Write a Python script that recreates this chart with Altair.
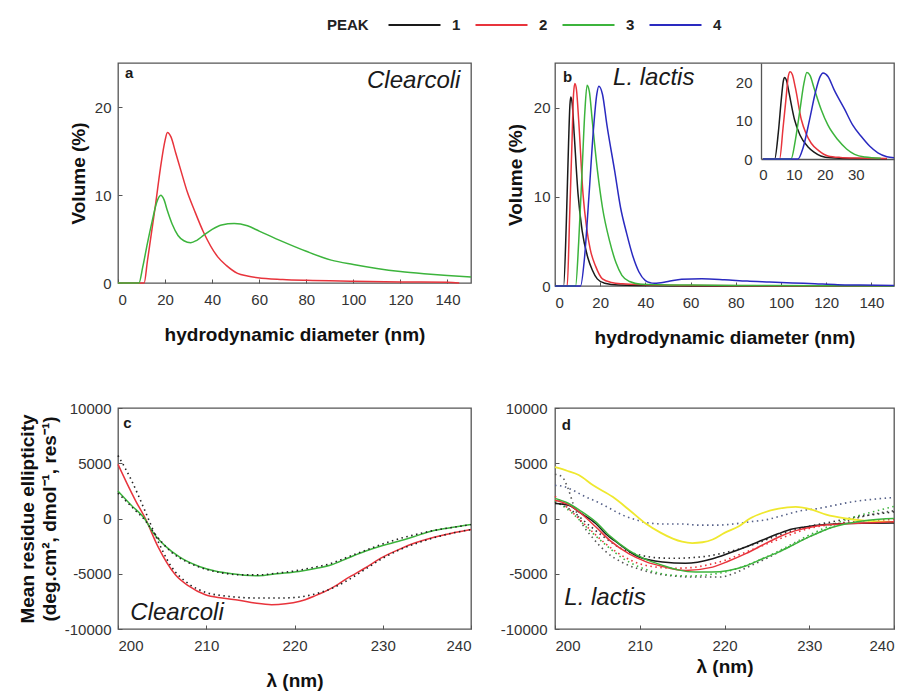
import altair as alt
import pandas as pd

FONT = "Liberation Sans"
PEAKS = ["1", "2", "3", "4"]
PEAK_COLORS = ["#1a1a1a", "#e8343c", "#3cb43c", "#2a2ac0"]
YELLOW = "#efe82e"
DOT_GRAY = "#555555"
DOT_BLUE = "#556088"

# ---------- panel a : Clearcoli DLS ----------
a_red_x = [0, 11.1, 12.5, 14, 16, 18, 20, 21, 22.5, 24.5, 26.7, 29.5, 32.4, 36.3, 42.3, 46, 50.8, 55, 59.4, 70, 80, 100, 120, 140, 145]
a_red_y = [0, 0, 2.5, 5.3, 9, 13, 16.2, 17.1, 16.6, 14.8, 12.8, 10.3, 8.3, 5.8, 3.0, 2.0, 1.1, 0.8, 0.6, 0.4, 0.3, 0.2, 0.12, 0.08, 0]
a_grn_x = [0, 8.9, 10.5, 12.5, 14.5, 16.5, 18.2, 19.5, 21, 23, 25.5, 28, 30.9, 33.5, 36.3, 40, 44, 49.4, 55, 60, 70, 80, 90.6, 100, 110, 120, 130, 140, 150]
a_grn_y = [0, 0, 1.8, 4.5, 7, 9.2, 9.97, 9.5, 8.2, 6.7, 5.4, 4.8, 4.57, 4.85, 5.4, 6.1, 6.6, 6.76, 6.5, 5.9, 4.7, 3.6, 2.6, 2.1, 1.65, 1.3, 1.05, 0.85, 0.68]

# ---------- panel b : L. lactis DLS ----------
b_p1_x = [0, 3.8, 5, 6, 6.6, 7, 7.6, 8.5, 10.2, 12, 14.5, 16.5, 18.7, 22, 28, 40, 60, 150]
b_p1_y = [0, 0, 7, 16, 20.3, 21.2, 20.5, 17, 10.3, 6.2, 3.2, 1.8, 0.8, 0.3, 0.1, 0.05, 0, 0]
b_p2_x = [0, 5.4, 6.5, 7.5, 8.2, 8.8, 9.5, 10.5, 12.4, 14, 15.6, 18, 21, 25, 30, 40, 60, 150]
b_p2_y = [0, 0, 8, 16, 21.5, 22.7, 22, 18.5, 10.3, 6.5, 4.1, 2.2, 0.8, 0.4, 0.25, 0.15, 0.05, 0]
b_p3_x = [0, 9.1, 10.5, 12, 13.2, 14.2, 15.2, 16.5, 18.8, 21, 24.2, 27, 29.6, 33, 38, 60, 95, 150]
b_p3_y = [0, 0, 5, 13, 19.5, 22.5, 21.8, 18.5, 12.9, 8.8, 5, 2.6, 1.2, 0.5, 0.2, 0.1, 0.05, 0]
b_p4_x = [0, 11.3, 13, 15, 17, 18.5, 19.4, 21, 23, 26.4, 29, 31.7, 34.5, 37.1, 40, 42.3, 44, 50, 56, 65, 75, 85, 95, 105, 115, 125, 135, 150]
b_p4_y = [0, 0, 3, 10, 17.5, 21.5, 22.4, 21.5, 18, 12.9, 8.8, 5.9, 3.3, 1.6, 0.6, 0.35, 0.3, 0.5, 0.75, 0.8, 0.7, 0.55, 0.45, 0.35, 0.25, 0.15, 0.1, 0.05]

# ---------- panel c : Clearcoli CD ----------
c_red_x = [200, 201, 202, 203.1, 204.5, 206.5, 208, 209.9, 211.8, 213.7, 215.5, 217.4, 219, 220.5, 222.3, 224.2, 226, 228, 230, 231.8, 233.7, 235.5, 237.7, 240]
c_red_y = [4900, 3200, 1600, 0, -2500, -5090, -6100, -6900, -7200, -7400, -7650, -7800, -7720, -7520, -7000, -6300, -5400, -4480, -3500, -2820, -2200, -1760, -1350, -1000]
c_grn_x = [200, 201.5, 203, 204, 205.4, 207, 209.2, 211, 212.9, 215.9, 218, 220.5, 222.5, 224.2, 226, 228, 230, 231.8, 233.5, 235.5, 237.5, 240]
c_grn_y = [2480, 1200, 0, -1300, -2520, -3500, -4340, -4750, -5000, -5180, -5000, -4790, -4500, -4180, -3600, -2970, -2450, -2060, -1650, -1150, -850, -545]
c_dot1_x = [200, 201.5, 203, 204.5, 206, 208, 210, 212, 214, 216, 218, 220, 222, 224, 226, 228, 230, 232, 234, 236, 238, 240]
c_dot1_y = [5700, 3500, 800, -2000, -4300, -5900, -6700, -7000, -7150, -7200, -7200, -7150, -6900, -6400, -5600, -4600, -3600, -2800, -2200, -1700, -1300, -1000]
c_dot2_x = [200, 202, 203, 204, 206, 208, 210, 212, 214, 216, 218, 220, 222, 224, 226, 228, 230, 232, 234, 236, 238, 240]
c_dot2_y = [2300, 700, -100, -1200, -3000, -4000, -4600, -4950, -5100, -5100, -4950, -4750, -4450, -4100, -3500, -2900, -2300, -1800, -1400, -1050, -800, -550]

# ---------- panel d : L. lactis CD ----------
d_yel_x = [200, 201.5, 202.8, 204.5, 206.8, 208.8, 210.7, 212.5, 213.9, 215, 216.2, 217.4, 218.6, 220, 221.7, 223, 224.5, 226.4, 228.4, 230.3, 232, 234.3, 236.5, 240]
d_yel_y = [4640, 4300, 3940, 3000, 1960, 750, -450, -1300, -1820, -2100, -2220, -2150, -1900, -1300, -700, 0, 500, 900, 1050, 800, 350, 0, -200, -300]
d_blk_x = [200, 201.6, 203, 204.8, 206, 207.5, 209.9, 212.7, 215.4, 218.6, 220.5, 222.5, 224.5, 226.4, 228, 229.5, 232, 234.3, 237, 240]
d_blk_y = [1360, 1200, 500, -450, -1400, -2270, -3490, -3940, -4050, -3640, -3150, -2580, -1950, -1360, -950, -760, -550, -450, -420, -400]
d_red_x = [200, 201.5, 203, 204.8, 206.5, 208.7, 210.7, 212.7, 215.4, 218.6, 220.5, 222.5, 224.5, 226.4, 228.4, 230.3, 232.5, 235, 237.5, 240]
d_red_y = [1660, 1300, 500, -750, -2000, -3180, -3900, -4340, -4700, -4400, -3850, -3180, -2400, -1670, -1100, -760, -550, -450, -380, -300]
d_grn_x = [200, 201.5, 203, 204.8, 206.5, 208.7, 210.7, 212.7, 214.5, 216.6, 218.5, 220.5, 222.5, 224.5, 226.5, 228.4, 230.3, 232.3, 234.5, 237, 240]
d_grn_y = [1820, 1400, 700, -300, -1600, -2880, -3700, -4240, -4650, -4850, -4850, -4700, -4300, -3640, -3000, -2270, -1550, -900, -450, -150, 0]
d_dotlow_x = [200, 200.8, 201.5, 202.2, 203, 204.5, 206, 208, 210, 212, 214, 216, 218, 219.5, 221, 223, 225, 227, 229, 231, 233, 235, 237, 240]
d_dotlow_y = [4000, 3800, 2800, 1200, -200, -1800, -3000, -4000, -4600, -5000, -5200, -5300, -5300, -5300, -5000, -4300, -3600, -2800, -2000, -1300, -700, -100, 300, 700]
d_dotup_x = [200, 201, 202, 203.5, 205, 206.5, 208, 209.5, 211, 213, 215, 217, 219, 221, 223, 225, 227, 229, 231, 233, 235, 237, 240]
d_dotup_y = [3000, 2900, 2600, 2000, 1500, 900, 300, -100, -400, -500, -500, -600, -600, -500, -300, -100, 300, 700, 900, 1200, 1500, 1700, 1900]
d_dot_x = [200, 202, 204, 206, 208, 210, 212, 214, 216, 218, 220, 222, 224, 226, 228, 230, 232, 234, 236, 238, 240]
d_dotblk_y = [1500, 700, -600, -1800, -2800, -3300, -3550, -3600, -3550, -3400, -3100, -2700, -2200, -1600, -1100, -700, -400, -100, 200, 400, 600]
d_dotred_y = [2000, 600, -900, -2300, -3400, -4100, -4400, -4500, -4450, -4200, -3800, -3200, -2600, -2000, -1400, -900, -600, -400, -250, -150, -100]
d_dotgrn_y = [1600, 500, -1000, -2400, -3600, -4400, -4900, -5150, -5200, -5100, -4850, -4400, -3800, -3100, -2300, -1500, -800, -200, 300, 700, 1100]

DLS_X_TICKS = [0, 20, 40, 60, 80, 100, 120, 140]
DLS_Y_TICKS = [0, 10, 20]
CD_X_TICKS = [200, 210, 220, 230, 240]
CD_Y_TICKS = [-10000, -5000, 0, 5000, 10000]
INSET_X_TICKS = [0, 10, 20, 30]


def long_df(series):
    rows = []
    for name, xs, ys in series:
        for xv, yv in zip(xs, ys):
            rows.append({"peak": name, "x": xv, "y": yv})
    return pd.DataFrame(rows)


# legend symbol: a 52px horizontal stroke that starts at the left of a 13px symbol cell
legend = alt.Legend(
    title="PEAK", orient="none", legendX=209, legendY=-46, direction="horizontal",
    titleOrient="left", titleAnchor="middle",
    symbolType="M-1,0H7", symbolSize=169, symbolStrokeWidth=2.2,
    labelFont=FONT, labelFontSize=15, labelFontWeight="bold", labelColor="#222",
    titleFont=FONT, titleFontSize=15, titleFontWeight="bold", titleColor="#222",
    labelOffset=49, columnPadding=10, titlePadding=18,
)
color_enc = alt.Color("peak:N", scale=alt.Scale(domain=PEAKS, range=PEAK_COLORS), legend=legend)


def dls_axes(ytitle_pad, ylab_pad):
    xax = alt.Axis(values=DLS_X_TICKS, offset=-4, tickSize=4, domain=False, labelPadding=9,
                   title="hydrodynamic diameter (nm)", titlePadding=18)
    yax = alt.Axis(values=DLS_Y_TICKS, offset=-4, tickSize=4, domain=False, labelPadding=ylab_pad,
                   title="Volume (%)", titlePadding=ytitle_pad)
    return xax, yax


def txt(x, y, s, size, italic=False, bold=False, align="left"):
    return alt.Chart(pd.DataFrame({"t": [s]})).mark_text(
        text=s, font=FONT, fontSize=size, fontStyle="italic" if italic else "normal",
        fontWeight="bold" if bold else "normal", align=align, baseline="middle", color="#1a1a1a"
    ).encode(x=alt.datum(x), y=alt.datum(y))


# ----- panel a -----
df_a = long_df([("2", a_red_x, a_red_y), ("3", a_grn_x, a_grn_y)])
xax_a, yax_a = dls_axes(6, 7)
xsc_dls = alt.Scale(domain=[0, 150], nice=False, zero=False)
ysc_dls = alt.Scale(domain=[0, 25], nice=False)
lines_a = alt.Chart(df_a).mark_line(strokeWidth=1.5, interpolate="monotone").encode(
    x=alt.X("x:Q", scale=xsc_dls, axis=xax_a),
    y=alt.Y("y:Q", scale=ysc_dls, axis=yax_a),
    color=color_enc,
)
panel_a = alt.layer(
    lines_a,
    txt(3, 23.9, "a", 15, bold=True),
    txt(145.5, 23.0, "Clearcoli", 24, italic=True, align="right"),
).properties(width=353, height=220)

# ----- panel b -----
df_b = long_df([("1", b_p1_x, b_p1_y), ("2", b_p2_x, b_p2_y), ("3", b_p3_x, b_p3_y), ("4", b_p4_x, b_p4_y)])
xax_b, yax_b = dls_axes(8, 5)
lines_b = alt.Chart(df_b).mark_line(strokeWidth=1.5, interpolate="monotone").encode(
    x=alt.X("x:Q", scale=xsc_dls, axis=xax_b),
    y=alt.Y("y:Q", scale=ysc_dls, axis=yax_b),
    color=color_enc,
)
inset_b = alt.Chart(df_b).transform_filter("datum.x <= 42.3").mark_line(
    strokeWidth=1.5, interpolate="monotone"
).encode(
    x=alt.X("x:Q", scale=alt.Scale(domain=[-0.6, 42.3], range=[206, 339], nice=False, zero=False),
            axis=alt.Axis(orient="bottom", offset=-127, values=INSET_X_TICKS, ticks=False,
                          domain=True, domainColor="#555", domainWidth=1.3, labelPadding=8, title=None)),
    y=alt.Y("y:Q", scale=alt.Scale(domain=[0, 25], range=[96, 0], nice=False),
            axis=alt.Axis(orient="left", offset=-206, values=DLS_Y_TICKS, ticks=False,
                          domain=True, domainColor="#555", domainWidth=1.3, labelPadding=9, title=None)),
    color=color_enc,
)
panel_b = alt.layer(
    alt.layer(lines_b, txt(3.5, 23.4, "b", 15, bold=True), txt(25.7, 23.3, "L. lactis", 24, italic=True)),
    inset_b,
).resolve_scale(x="independent", y="independent").properties(width=339, height=223)

# ----- panel c -----
xsc_cd = alt.Scale(domain=[200, 240], nice=False, zero=False)
ysc_cd = alt.Scale(domain=[-10000, 10000], nice=False)


def cd_axes(xtitle_pad, ytitle, ylab_pad, ytitle_pad):
    xax = alt.Axis(values=CD_X_TICKS, offset=-4, tickSize=4, domain=False, labelPadding=9,
                   title="λ (nm)", titlePadding=xtitle_pad)
    if ytitle is None:
        yax = alt.Axis(values=CD_Y_TICKS, offset=-4, tickSize=4, domain=False, labelPadding=ylab_pad,
                       labelExpr="'' + datum.value", title=None)
    else:
        yax = alt.Axis(values=CD_Y_TICKS, offset=-4, tickSize=4, domain=False, labelPadding=ylab_pad,
                       labelExpr="'' + datum.value", title=ytitle, titlePadding=ytitle_pad,
                       titleLineHeight=22)
    return xax, yax


xax_c, yax_c = cd_axes(18, ["Mean residue ellipticity", "(deg.cm², dmol⁻¹, res⁻¹)"], 7, 5)
df_c = long_df([("2", c_red_x, c_red_y), ("3", c_grn_x, c_grn_y)])
lines_c = alt.Chart(df_c).mark_line(strokeWidth=1.5, interpolate="monotone").encode(
    x=alt.X("x:Q", scale=xsc_cd, axis=xax_c),
    y=alt.Y("y:Q", scale=ysc_cd, axis=yax_c),
    color=color_enc,
)


def dotted(xs, ys, color, name):
    df = pd.DataFrame({"x": xs, "y": ys, "s": name})
    return alt.Chart(df).mark_line(strokeWidth=1.6, strokeDash=[1.5, 3.5], color=color,
                                   interpolate="monotone").encode(x="x:Q", y="y:Q")


panel_c = alt.layer(
    lines_c,
    dotted(c_dot1_x, c_dot1_y, "#222", "c1"),
    dotted(c_dot2_x, c_dot2_y, "#222", "c2"),
    txt(200.6, 8600, "c", 15, bold=True),
    txt(201.4, -8550, "Clearcoli", 24, italic=True),
).properties(width=353, height=221)

# ----- panel d -----
xax_d, yax_d = cd_axes(4, None, 8, 0)
df_d = long_df([("1", d_blk_x, d_blk_y), ("2", d_red_x, d_red_y), ("3", d_grn_x, d_grn_y)])
lines_d = alt.Chart(df_d).mark_line(strokeWidth=1.5, interpolate="monotone").encode(
    x=alt.X("x:Q", scale=xsc_cd, axis=xax_d),
    y=alt.Y("y:Q", scale=ysc_cd, axis=yax_d),
    color=color_enc,
)
yellow_d = alt.Chart(pd.DataFrame({"x": d_yel_x, "y": d_yel_y})).mark_line(
    strokeWidth=1.8, color=YELLOW, interpolate="monotone").encode(x="x:Q", y="y:Q")
panel_d = alt.layer(
    dotted(d_dotlow_x, d_dotlow_y, DOT_GRAY, "dl"),
    dotted(d_dotup_x, d_dotup_y, DOT_BLUE, "du"),
    dotted(d_dot_x, d_dotblk_y, "#333", "db"),
    dotted(d_dot_x, d_dotred_y, "#e8343c", "dr"),
    dotted(d_dot_x, d_dotgrn_y, "#3cb43c", "dg"),
    yellow_d,
    lines_d,
    txt(200.8, 8500, "d", 15, bold=True),
    txt(201.1, -7200, "L. lactis", 24, italic=True),
).properties(width=339, height=221)

chart = alt.concat(
    panel_a, panel_b, panel_c, panel_d,
    columns=2, spacing={"row": 122, "column": 84}, bounds="flush",
).properties(
    padding={"left": 9, "top": 9, "right": 0, "bottom": 0}
).configure_view(
    stroke="#555", strokeWidth=1.3
).configure_axis(
    labelFont=FONT, labelFontSize=15, labelColor="#333",
    titleFont=FONT, titleFontSize=19, titleFontWeight="bold", titleColor="#111",
    tickColor="#555", grid=False,
)

chart.save("out.html", embed_options={"renderer": "svg", "actions": False})
